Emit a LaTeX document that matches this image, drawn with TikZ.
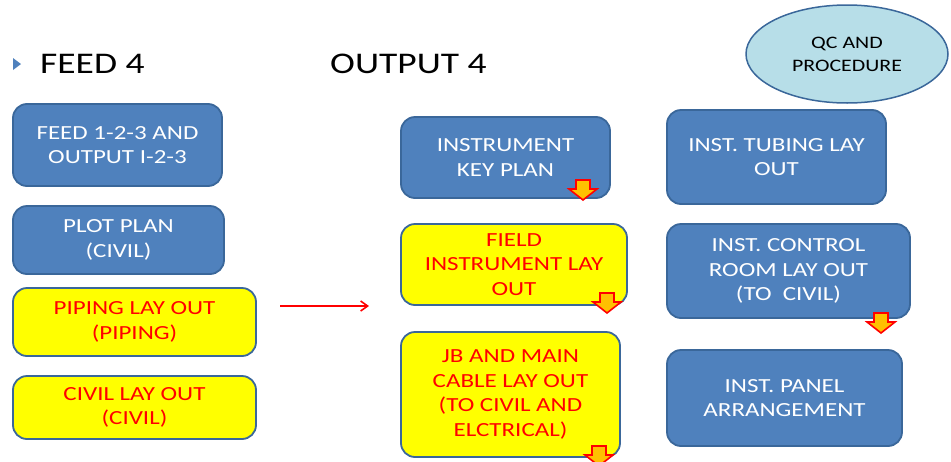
\documentclass[tikz,border=0pt]{standalone}
\usepackage{fontspec}
\setmainfont{Carlito}[FakeStretch=1.25]
\usetikzlibrary{shapes.geometric,arrows.meta}
\definecolor{boxblue}{HTML}{4F81BD}
\definecolor{edgeblue}{HTML}{3A679A}
\definecolor{hiyellow}{HTML}{FFFF00}
\definecolor{qcblue}{HTML}{B7DEE8}
\definecolor{tipfill}{HTML}{FFC000}
\definecolor{bulletblue}{HTML}{4F81BD}
\tikzset{
  basebox/.style={rectangle, rounded corners=14pt, draw=edgeblue, line width=1.8pt,
    align=center, inner sep=2pt, font=\fontsize{20}{24.5}\selectfont},
  bluebox/.style={basebox, fill=boxblue, text=white},
  yelbox/.style={basebox, fill=hiyellow, text=red},
  title/.style={anchor=base west, inner sep=0pt, font=\fontsize{30}{36}\selectfont},
  pics/dnarrow/.style={code={
    \draw[fill=tipfill, draw=red, line width=1.6pt, line join=miter]
      (-7,0) -- (7,0) -- (7,9) -- (14,9) -- (0,20) -- (-14,9) -- (-7,9) -- cycle;}}
}
\begin{document}
\begin{tikzpicture}[x=1pt,y=-1pt]
\useasboundingbox (0,0) rectangle (951,461);

% headings
\fill[bulletblue] (13,58) -- (21,64) -- (13,70) -- cycle;
\node[title] (feedhead) at (40,73) {FEED 4};
\node[title] (outhead) at (330,73) {OUTPUT 4};

% quality control bubble
\node[ellipse, draw=edgeblue, line width=1.5pt, fill=qcblue, minimum width=202pt,
  minimum height=98pt, align=center, inner sep=0pt,
  font=\fontsize{17.5}{23}\selectfont] (qc) at (847,54) {QC AND\\PROCEDURE};

% feed column
\node[bluebox, minimum width=209pt, minimum height=82pt] (feed) at (117.5,145) {FEED 1-2-3 AND\\OUTPUT I-2-3};
\node[bluebox, minimum width=211pt, minimum height=68pt] (plot) at (118.5,240) {PLOT PLAN\\(CIVIL)};
\node[yelbox, minimum width=243pt, minimum height=68pt] (piping) at (134.5,322) {PIPING LAY OUT\\(PIPING)};
\node[yelbox, minimum width=243pt, minimum height=63pt] (civil) at (134.5,407.5) {CIVIL LAY OUT\\(CIVIL)};

% output column
\node[bluebox, minimum width=209pt, minimum height=81pt] (keyplan) at (505.5,157.5) {INSTRUMENT\\KEY PLAN};
\node[yelbox, minimum width=226pt, minimum height=81pt] (field) at (514,264.5) {FIELD\\INSTRUMENT LAY\\OUT};
\node[yelbox, minimum width=219pt, minimum height=125pt] (jb) at (510.5,394.5) {JB AND MAIN\\CABLE LAY OUT\\(TO CIVIL AND\\ELCTRICAL)};

% instrument column
\node[bluebox, minimum width=219pt, minimum height=94pt] (tubing) at (776.5,157) {INST. TUBING LAY\\OUT};
\node[bluebox, minimum width=243pt, minimum height=94pt] (control) at (788.5,271) {INST. CONTROL\\ROOM LAY OUT\\(TO\ \ CIVIL)};
\node[bluebox, minimum width=235pt, minimum height=96pt] (panel) at (784.5,398) {INST. PANEL\\ARRANGEMENT};

% flow arrow from feed to output
\coordinate (flowstart) at (280,306);
\coordinate (flowend) at (369,306);
\draw[red, line width=1.6pt, -{Straight Barb[length=7pt,width=10pt,line width=1.6pt]}] (flowstart) -- (flowend);

% hand-off markers
\pic at (583,180) {dnarrow};
\pic at (607,293) {dnarrow};
\pic at (881,313) {dnarrow};
\pic at (599,446) {dnarrow};
\end{tikzpicture}
\end{document}
